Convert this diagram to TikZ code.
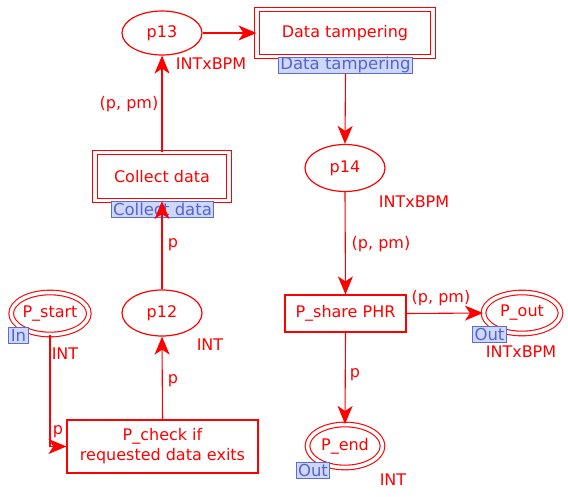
\documentclass[tikz,border=0pt]{standalone}
\usepackage{fontspec}
\setmainfont{DejaVu Sans}
\usetikzlibrary{arrows.meta,shapes.geometric}
\definecolor{pred}{RGB}{255,0,0}
\definecolor{lblue}{RGB}{208,216,250}
\definecolor{bblue}{RGB}{85,110,220}
\definecolor{tblue}{RGB}{85,100,205}
\begin{document}
\begin{tikzpicture}[x=1pt,y=-1pt,
  font=\fontsize{16}{20}\selectfont,
  every node/.style={text=pred},
  place/.style={ellipse, draw=pred, line width=1.2pt, minimum width=80pt, minimum height=46pt, inner sep=0pt},
  port/.style={ellipse, draw=pred, double=white, double distance=3.5pt, line width=1.1pt, minimum width=75pt, minimum height=42pt, inner sep=0pt},
  trans/.style={rectangle, draw=pred, line width=1.2pt, inner sep=0pt, align=center},
  subst/.style={rectangle, draw=pred, double=white, double distance=3.5pt, line width=1.1pt, inner sep=0pt},
  tag/.style={rectangle, fill=lblue, draw=bblue, line width=1pt, text=tblue, inner xsep=2pt, inner ysep=0pt, minimum height=16pt, font=\fontsize{16.5}{17}\selectfont},
  lbl/.style={inner sep=0pt},
  arc/.style={draw=pred, line width=1.1pt, -{Stealth[length=18pt,width=15pt,inset=5pt]}}
]
\useasboundingbox (0,0) rectangle (568,496);

% places
\node[place] (p13) at (162,33) [minimum height=44pt] {p13};
\node[place] (p14) at (345,168) [minimum height=47pt] {p14};
\node[place] (p12) at (162,313) {p12};
\node[port] (pstart) at (50,313.5) {P\_start};
\node[port] (pout) at (522,313) [minimum width=77pt, minimum height=41pt] {P\_out};
\node[port] (pend) at (345,446) [minimum height=43pt] {P\_end};

% transitions
\node[subst, minimum width=176pt, minimum height=47pt] (dt) at (345,33) {Data tampering};
\node[subst, minimum width=134pt, minimum height=48pt] (cd) at (162,176.5) {Collect data};
\node[trans, minimum width=191pt, minimum height=53pt] (pc) at (162.5,446.5) {P\_check if\\requested data exits};
\node[trans, minimum width=121pt, minimum height=37pt] (ps) at (345.5,313.5) {P\_share PHR};

% tags
\node[tag] (tdt) at (345.5,65) {Data tampering};
\node[tag] (tcd) at (162.5,209) {Collect data};
\node[tag] (tin) at (18.5,335) {In};
\node[tag] (tout1) at (489.5,334.5) {Out};
\node[tag] (tout2) at (313,470) {Out};

% arcs
\draw[arc] (pstart.south) -- (pstart.south |- pc.west) -- (pc.west);
\draw[arc] (pc.north) -- (p12.south);
\draw[arc] (p12.north) -- (cd.south);
\draw[arc] (cd.north) -- (p13.south);
\draw[arc] (p13.east) -- (dt.west);
\draw[arc] (tdt.south) -- (p14.north);
\draw[arc] (p14.south) -- (ps.north);
\draw[arc] (ps.east) -- (pout.west);
\draw[arc] (ps.south) -- (pend.north);

% labels
\node[lbl] (l1) at (211,64) {INTxBPM};
\node[lbl] (l2) at (414,202) {INTxBPM};
\node[lbl] (l3) at (381,244) {(p, pm)};
\node[lbl] (l4) at (441,298) {(p, pm)};
\node[lbl] (l5) at (521,352) {INTxBPM};
\node[lbl] (l6) at (355,375) {p};
\node[lbl] (l7) at (393,480) {INT};
\node[lbl] (l8) at (210,345) {INT};
\node[lbl] (l9) at (173,381) {p};
\node[lbl] (l10) at (65,354) {INT};
\node[lbl] (l11) at (58,432) {p};
\node[lbl] (l12) at (173,245) {p};
\node[lbl] (l13) at (129,104) {(p, pm)};
\end{tikzpicture}
\end{document}
